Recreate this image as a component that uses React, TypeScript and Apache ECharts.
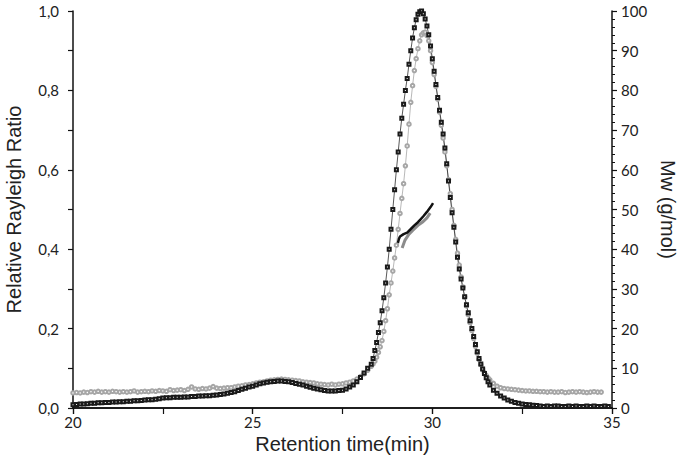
import React, { useEffect, useRef } from "react";
import * as echarts from "echarts";

// Relative Rayleigh Ratio, detector 1 (black squares): [time (min), ratio]
const rrBlack: [number, number][] = [
  [20.0, 0.008], [20.1, 0.009], [20.2, 0.010], [20.3, 0.010], [20.4, 0.011], [20.5, 0.012], [20.6, 0.012], [20.7, 0.013], [20.8, 0.013], [20.9, 0.014],
  [21.0, 0.014], [21.1, 0.015], [21.2, 0.015], [21.3, 0.016], [21.4, 0.016], [21.5, 0.017], [21.6, 0.017], [21.7, 0.018], [21.8, 0.018], [21.9, 0.019],
  [22.0, 0.020], [22.1, 0.021], [22.2, 0.021], [22.3, 0.022], [22.4, 0.023], [22.5, 0.025], [22.6, 0.026], [22.7, 0.026], [22.8, 0.027], [22.9, 0.027],
  [23.0, 0.027], [23.1, 0.028], [23.2, 0.028], [23.3, 0.029], [23.4, 0.029], [23.5, 0.030], [23.6, 0.030], [23.7, 0.031], [23.8, 0.031], [23.9, 0.032],
  [24.0, 0.033], [24.1, 0.034], [24.2, 0.035], [24.3, 0.037], [24.4, 0.039], [24.5, 0.041], [24.6, 0.044], [24.7, 0.047], [24.8, 0.050], [24.9, 0.053],
  [25.0, 0.055], [25.1, 0.058], [25.2, 0.061], [25.3, 0.063], [25.4, 0.065], [25.5, 0.066], [25.6, 0.067], [25.7, 0.068], [25.8, 0.068], [25.9, 0.067],
  [26.0, 0.066], [26.1, 0.064], [26.2, 0.062], [26.3, 0.060], [26.4, 0.058], [26.5, 0.055], [26.6, 0.052], [26.7, 0.050], [26.8, 0.048], [26.9, 0.046],
  [27.0, 0.044], [27.1, 0.043], [27.2, 0.043], [27.3, 0.043], [27.4, 0.044], [27.5, 0.045], [27.6, 0.048], [27.7, 0.053], [27.8, 0.058], [27.9, 0.066],
  [28.0, 0.077], [28.1, 0.088], [28.2, 0.100], [28.3, 0.110], [28.4, 0.145], [28.5, 0.190], [28.6, 0.245], [28.7, 0.315], [28.8, 0.400], [28.9, 0.500],
  [29.0, 0.600], [29.1, 0.690], [29.2, 0.765], [29.3, 0.830], [29.4, 0.900], [29.5, 0.958], [29.6, 0.992], [29.7, 1.000], [29.8, 0.980], [29.9, 0.940],
  [30.0, 0.880], [30.1, 0.815], [30.2, 0.750], [30.3, 0.690], [30.4, 0.615], [30.5, 0.530], [30.6, 0.455], [30.7, 0.380], [30.8, 0.325], [30.9, 0.280],
  [31.0, 0.240], [31.1, 0.200], [31.2, 0.160], [31.3, 0.125], [31.4, 0.098], [31.5, 0.076], [31.6, 0.058], [31.7, 0.045], [31.8, 0.037], [31.9, 0.030],
  [32.0, 0.025], [32.1, 0.020], [32.2, 0.017], [32.3, 0.014], [32.4, 0.012], [32.5, 0.010], [32.6, 0.009], [32.7, 0.008], [32.8, 0.007], [32.9, 0.006],
  [33.0, 0.005], [33.1, 0.004], [33.2, 0.005], [33.3, 0.004], [33.4, 0.005], [33.5, 0.005], [33.6, 0.004], [33.7, 0.004], [33.8, 0.005], [33.9, 0.004],
  [34.0, 0.005], [34.1, 0.004], [34.2, 0.004], [34.3, 0.005], [34.4, 0.004], [34.5, 0.005], [34.6, 0.004], [34.7, 0.004], [34.8, 0.005], [34.9, 0.004],
];
// extra, denser readings across the main peak (detector 1)
const rrBlackPeak: [number, number][] = [
  [28.35, 0.125], [28.45, 0.165], [28.55, 0.215], [28.65, 0.278], [28.75, 0.355], [28.85, 0.450], [28.95, 0.550], [29.05, 0.645],
  [29.15, 0.730], [29.25, 0.800], [29.35, 0.866], [29.45, 0.932], [29.55, 0.978], [29.65, 0.998], [29.75, 0.993], [29.85, 0.962],
  [29.95, 0.912], [30.05, 0.848], [30.15, 0.782], [30.25, 0.720], [30.35, 0.655], [30.45, 0.572], [30.55, 0.492], [30.65, 0.418],
  [30.75, 0.350], [30.85, 0.302], [30.95, 0.260], [31.05, 0.220], [31.15, 0.180], [31.25, 0.142], [31.35, 0.111], [31.45, 0.087], [31.55, 0.066],
];

// Relative Rayleigh Ratio, detector 2 (grey circles): [time (min), ratio]
const rrGrey: [number, number][] = [
  [20.0, 0.038], [20.1, 0.039], [20.2, 0.038], [20.3, 0.040], [20.4, 0.039], [20.5, 0.041], [20.6, 0.040], [20.7, 0.042], [20.8, 0.040], [20.9, 0.041],
  [21.0, 0.040], [21.1, 0.042], [21.2, 0.041], [21.3, 0.040], [21.4, 0.041], [21.5, 0.040], [21.6, 0.041], [21.7, 0.043], [21.8, 0.040], [21.9, 0.041],
  [22.0, 0.042], [22.1, 0.041], [22.2, 0.043], [22.3, 0.042], [22.4, 0.044], [22.5, 0.043], [22.6, 0.042], [22.7, 0.046], [22.8, 0.044], [22.9, 0.045],
  [23.0, 0.046], [23.1, 0.044], [23.2, 0.047], [23.3, 0.053], [23.4, 0.048], [23.5, 0.047], [23.6, 0.049], [23.7, 0.048], [23.8, 0.050], [23.9, 0.054],
  [24.0, 0.050], [24.1, 0.049], [24.2, 0.050], [24.3, 0.051], [24.4, 0.051], [24.5, 0.053], [24.6, 0.055], [24.7, 0.056], [24.8, 0.058], [24.9, 0.059],
  [25.0, 0.061], [25.1, 0.063], [25.2, 0.065], [25.3, 0.066], [25.4, 0.068], [25.5, 0.070], [25.6, 0.071], [25.7, 0.072], [25.8, 0.073], [25.9, 0.072],
  [26.0, 0.071], [26.1, 0.070], [26.2, 0.069], [26.3, 0.068], [26.4, 0.066], [26.5, 0.065], [26.6, 0.064], [26.7, 0.063], [26.8, 0.061], [26.9, 0.060],
  [27.0, 0.059], [27.1, 0.058], [27.2, 0.060], [27.3, 0.058], [27.4, 0.060], [27.5, 0.061], [27.6, 0.063], [27.7, 0.065], [27.8, 0.068], [27.9, 0.073],
  [28.0, 0.079], [28.1, 0.086], [28.2, 0.095], [28.3, 0.105], [28.4, 0.118], [28.5, 0.140], [28.6, 0.170], [28.7, 0.220], [28.8, 0.285], [28.9, 0.345],
  [29.0, 0.410], [29.1, 0.490], [29.2, 0.565], [29.3, 0.660], [29.4, 0.770], [29.5, 0.850], [29.6, 0.905], [29.7, 0.940], [29.8, 0.947], [29.9, 0.925],
  [30.0, 0.870], [30.1, 0.810], [30.2, 0.745], [30.3, 0.680], [30.4, 0.610], [30.5, 0.540], [30.6, 0.460], [30.7, 0.390], [30.8, 0.330], [30.9, 0.280],
  [31.0, 0.235], [31.1, 0.195], [31.2, 0.155], [31.3, 0.122], [31.4, 0.098], [31.5, 0.082], [31.6, 0.071], [31.7, 0.062], [31.8, 0.055], [31.9, 0.051],
  [32.0, 0.049], [32.1, 0.048], [32.2, 0.047], [32.3, 0.046], [32.4, 0.045], [32.5, 0.044], [32.6, 0.043], [32.7, 0.043], [32.8, 0.042], [32.9, 0.042],
  [33.0, 0.041], [33.1, 0.041], [33.2, 0.040], [33.3, 0.041], [33.4, 0.040], [33.5, 0.040], [33.6, 0.041], [33.7, 0.039], [33.8, 0.040], [33.9, 0.041],
  [34.0, 0.040], [34.1, 0.041], [34.2, 0.040], [34.3, 0.039], [34.4, 0.040], [34.5, 0.041], [34.6, 0.040], [34.7, 0.040],
];
// extra, denser readings across the main peak (detector 2)
const rrGreyPeak: [number, number][] = [
  [28.35, 0.111], [28.45, 0.128], [28.55, 0.154], [28.65, 0.193], [28.75, 0.250], [28.85, 0.315], [28.95, 0.378], [29.05, 0.450],
  [29.15, 0.528], [29.25, 0.610], [29.35, 0.715], [29.45, 0.812], [29.55, 0.880], [29.65, 0.925], [29.75, 0.945], [29.85, 0.938],
  [29.95, 0.900], [30.05, 0.840], [30.15, 0.778], [30.25, 0.712], [30.35, 0.645], [30.45, 0.575], [30.55, 0.500], [30.65, 0.425],
  [30.75, 0.360], [30.85, 0.305], [30.95, 0.257], [31.05, 0.215], [31.15, 0.175], [31.25, 0.138], [31.35, 0.109], [31.45, 0.089], [31.55, 0.076],
];

// Molar mass across the main peak (right axis, g/mol)
const mwBlack: [number, number][] = [
  [29.04, 41.5], [29.07, 42.6], [29.10, 43.2], [29.2, 43.8], [29.3, 44.2], [29.38, 44.9], [29.5, 46.0], [29.6, 46.8],
  [29.66, 47.4], [29.75, 48.3], [29.85, 49.4], [29.95, 50.6], [30.02, 51.6],
];
const mwGrey: [number, number][] = [
  [29.16, 40.3], [29.24, 42.3], [29.35, 43.8], [29.46, 44.8], [29.6, 46.0], [29.74, 46.9], [29.85, 47.9], [29.94, 49.1],
];

const xTicks = { min: 20, max: 35, interval: 5 };
const leftTicks = { min: 0, max: 1, interval: 0.2 };
const rightTicks = { min: 0, max: 100, interval: 10 };

const byTime = (a: [number, number], b: [number, number]) => a[0] - b[0];
const blackData = [...rrBlack, ...rrBlackPeak].sort(byTime);
const greyData = [...rrGrey, ...rrGreyPeak].sort(byTime);

const labelFont = { fontFamily: "Lato", fontSize: 15, color: "#222" };
const titleFont = { fontFamily: "Liberation Sans", fontSize: 20, color: "#222" };
const axisLine = { show: true, lineStyle: { color: "#111", width: 1.5 } };

export default function App() {
  const ref = useRef<HTMLDivElement>(null);
  useEffect(() => {
    if (!ref.current) return;
    const chart = echarts.init(ref.current, null, { renderer: "svg" });
    chart.setOption({
      animation: false,
      backgroundColor: "#fff",
      grid: { left: 73, right: 69, top: 11, bottom: 68, containLabel: false, outerBoundsMode: "none" },
      xAxis: [
        {
          type: "value", ...xTicks, position: "bottom",
          name: "Retention time(min)", nameLocation: "middle", nameGap: 18,
          nameTextStyle: titleFont,
          axisLine, splitLine: { show: false },
          axisTick: { show: true, inside: false, length: 6, lineStyle: { color: "#111", width: 1.2 } },
          minorTick: { show: true, splitNumber: 2, length: 6, lineStyle: { color: "#111", width: 1.2 } },
          axisLabel: { ...labelFont, margin: 6 },
        },
        {
          type: "value", ...xTicks, position: "top",
          axisLine, splitLine: { show: false },
          axisTick: { show: true, inside: true, length: 6, lineStyle: { color: "#111", width: 1.2 } },
          minorTick: { show: false },
          axisLabel: { show: false },
        },
      ],
      yAxis: [
        {
          type: "value", ...leftTicks, position: "left",
          name: "Relative Rayleigh Ratio", nameLocation: "middle", nameGap: 49,
          nameTextStyle: titleFont,
          axisLine, splitLine: { show: false },
          axisTick: { show: true, inside: false, length: 5, lineStyle: { color: "#111", width: 1.2 } },
          minorTick: { show: true, splitNumber: 2, length: 5, lineStyle: { color: "#111", width: 1.2 } },
          axisLabel: { ...labelFont, margin: 14, formatter: (v: number) => v.toFixed(1).replace(".", ",") },
        },
        {
          type: "value", ...rightTicks, position: "right",
          name: "Mw (g/mol)", nameLocation: "middle", nameGap: 38, nameRotate: -90,
          nameTextStyle: titleFont,
          axisLine, splitLine: { show: false },
          axisTick: { show: true, inside: false, length: 5, lineStyle: { color: "#111", width: 1.2 } },
          minorTick: { show: true, splitNumber: 5, length: 3, lineStyle: { color: "#111", width: 1 } },
          axisLabel: { ...labelFont, margin: 9 },
        },
      ],
      series: [
        {
          type: "line", data: greyData, yAxisIndex: 0,
          symbol: "emptyCircle", symbolSize: 3.5, showAllSymbol: true,
          itemStyle: { color: "#a6a6a6", borderWidth: 0.9 },
          lineStyle: { color: "#9a9a9a", width: 0.7 },
        },
        {
          type: "line", data: blackData, yAxisIndex: 0,
          symbol: "emptyRect", symbolSize: 3, showAllSymbol: true,
          itemStyle: { color: "#1a1a1a", borderWidth: 0.9 },
          lineStyle: { color: "#111", width: 0.7 },
        },
        {
          type: "line", data: mwGrey, yAxisIndex: 1, symbol: "none",
          lineStyle: { color: "#8c8c8c", width: 3 },
        },
        {
          type: "line", data: mwBlack, yAxisIndex: 1, symbol: "none",
          lineStyle: { color: "#111", width: 2.5 },
        },
      ],
    });
    return () => chart.dispose();
  }, []);
  return <div ref={ref} style={{ width: 681, height: 476, position: "absolute", left: 0, top: 0 }} />;
}
